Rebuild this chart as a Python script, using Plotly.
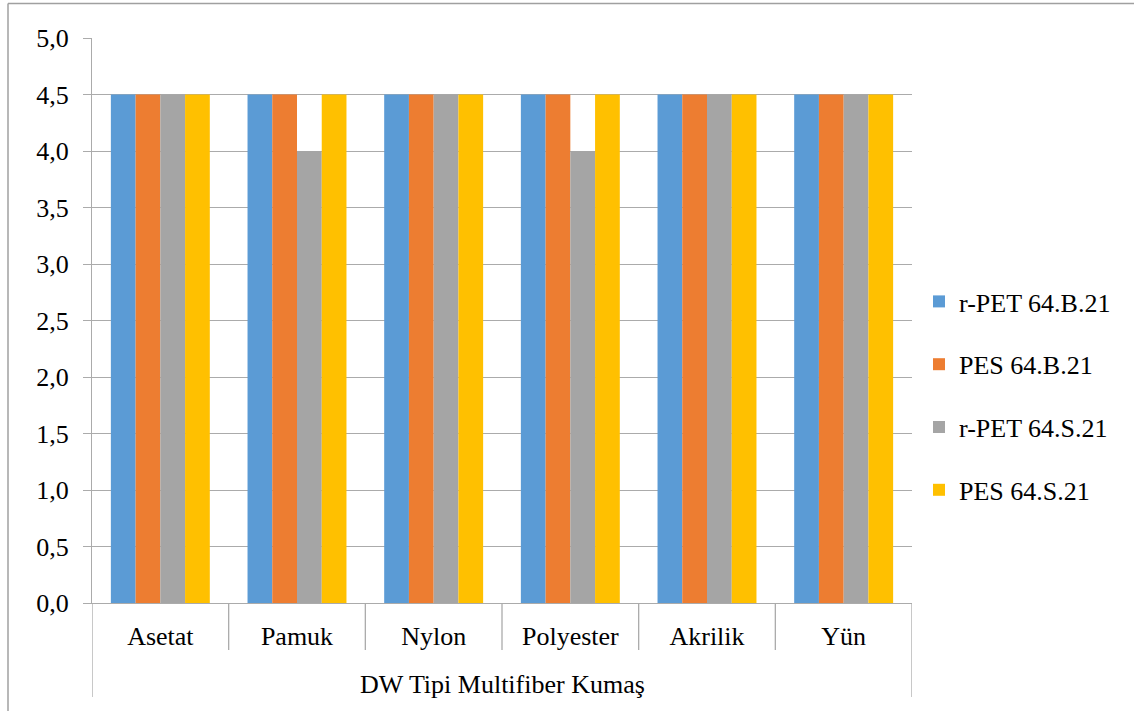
import plotly.graph_objects as go

# Multifiber fabric components and colour-fastness grades per sample
categories = ["Asetat", "Pamuk", "Nylon", "Polyester", "Akrilik", "Yün"]
series_names = ["r-PET 64.B.21", "PES 64.B.21", "r-PET 64.S.21", "PES 64.S.21"]
rpet_b = [4.5, 4.5, 4.5, 4.5, 4.5, 4.5]
pes_b = [4.5, 4.5, 4.5, 4.5, 4.5, 4.5]
rpet_s = [4.5, 4.0, 4.5, 4.0, 4.5, 4.5]
pes_s = [4.5, 4.5, 4.5, 4.5, 4.5, 4.5]
y_ticks = [0.0, 0.5, 1.0, 1.5, 2.0, 2.5, 3.0, 3.5, 4.0, 4.5, 5.0]
axis_title = "DW Tipi Multifiber Kumaş"

colors = ["#5B9BD5", "#ED7D31", "#A5A5A5", "#FFC000"]
FONT = "'Liberation Serif', 'Times New Roman', serif"
FS = 26
GRID = "#ABABAB"
W, H = 1134, 711

fig = go.Figure()
for i, (name, vals) in enumerate(zip(series_names, [rpet_b, pes_b, rpet_s, pes_s])):
    fig.add_trace(go.Bar(
        x=categories, y=vals, name=name,
        marker=dict(color=colors[i], line=dict(width=0)),
        legendgroup=f"g{i}",
    ))

def py(p):
    return 1 - p / H

def px(p):
    return p / W

x0p, x1p = 92, 912
y_top, y_base = 38, 603

shapes = []
# category separators below the baseline
n = len(categories)
for i in range(n + 1):
    end = 697 if i in (0, n) else 650
    shapes.append(dict(type="line", xref="x", yref="paper",
                       x0=i - 0.5, x1=i - 0.5, y0=py(y_base), y1=py(end),
                       line=dict(color=GRID, width=1.3)))
# outer chart frame
shapes.append(dict(type="line", xref="paper", yref="paper",
                   x0=px(8), x1=px(8), y0=py(3.5), y1=-0.05,
                   line=dict(color="#A0A0A0", width=1.5)))
shapes.append(dict(type="line", xref="paper", yref="paper",
                   x0=px(8), x1=1.05, y0=py(3.5), y1=py(3.5),
                   line=dict(color="#A0A0A0", width=1.5)))

fig.update_layout(
    width=W, height=H,
    margin=dict(l=0, r=0, t=0, b=0, autoexpand=False),
    paper_bgcolor="white", plot_bgcolor="white",
    separators=",.",
    barmode="group", bargap=0.276, bargroupgap=0,
    font=dict(family=FONT, size=FS, color="black"),
    xaxis=dict(
        domain=[px(x0p), px(x1p)], automargin=False,
        type="category", range=[-0.5, n - 0.5],
        showgrid=False, zeroline=False,
        showline=True, linecolor=GRID, linewidth=1.3,
        ticks="", ticklabelstandoff=10,
        tickfont=dict(family=FONT, size=FS, color="black"),
    ),
    yaxis=dict(
        domain=[py(y_base), py(y_top)], automargin=False,
        range=[0, 5], tickvals=y_ticks, tickformat=".1f",
        showgrid=True, gridcolor=GRID, gridwidth=1.3,
        zeroline=False,
        showline=True, linecolor=GRID, linewidth=1.3,
        ticks="outside", ticklen=8, tickcolor=GRID, tickwidth=1.3,
        ticklabelstandoff=9,
        tickfont=dict(family=FONT, size=FS, color="black"),
    ),
    legend=dict(
        x=px(919), y=py(278), xanchor="left", yanchor="top",
        font=dict(family=FONT, size=FS, color="black"),
        traceorder="grouped", tracegroupgap=26,
        bgcolor="rgba(0,0,0,0)",
    ),
    shapes=shapes,
    annotations=[dict(
        text=axis_title, xref="x", yref="paper",
        x=(n - 1) / 2, y=py(684), xanchor="center", yanchor="middle",
        showarrow=False, font=dict(family=FONT, size=FS, color="black"),
    )],
)

fig.write_html("out.html")
